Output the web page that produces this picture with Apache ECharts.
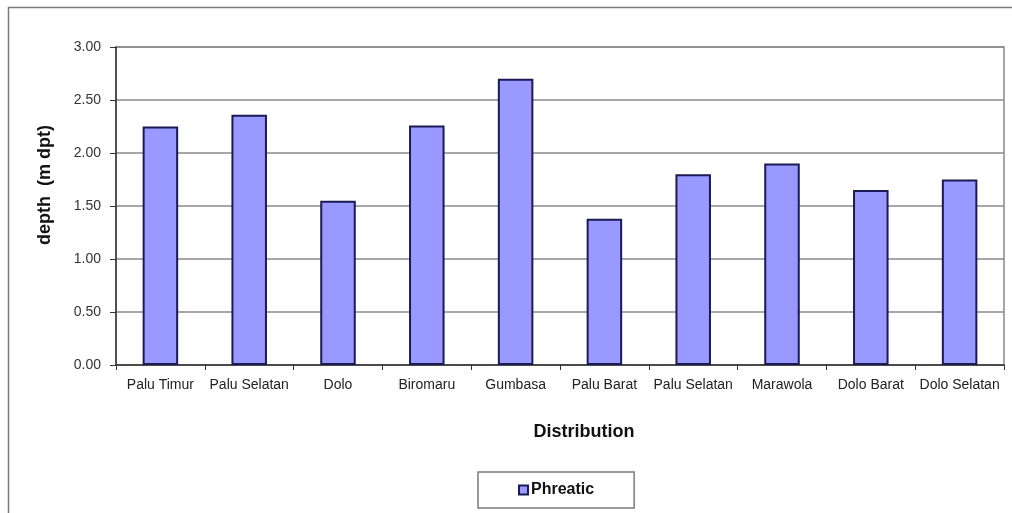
<!DOCTYPE html>
<html>
<head>
<meta charset="utf-8">
<script src="https://cdn.jsdelivr.net/npm/echarts@6/dist/echarts.min.js"></script>
<style>
  html, body { margin: 0; padding: 0; background: #fff; }
  #chart { width: 1012px; height: 513px; }
</style>
</head>
<body>
<div id="chart"></div>
<script>
// Groundwater (phreatic) depth by district
const categories = ['Palu Timur', 'Palu Selatan', 'Dolo', 'Biromaru', 'Gumbasa',
  'Palu Barat', 'Palu Selatan', 'Marawola', 'Dolo Barat', 'Dolo Selatan'];
const phreatic = [2.25, 2.36, 1.55, 2.26, 2.70, 1.38, 1.80, 1.90, 1.65, 1.75];
const yTicks = { min: 0, max: 3, step: 0.5 };

const FONT = '"Liberation Sans", Arial, sans-serif';
const chart = echarts.init(document.getElementById('chart'), null, { renderer: 'canvas' });

chart.setOption({
  backgroundColor: '#ffffff',
  animation: false,
  graphic: [
    // outer chart frame (top and left edges visible)
    { type: 'line', shape: { x1: 8, y1: 7.5, x2: 1012, y2: 7.5 }, style: { stroke: '#7a7a7a', lineWidth: 1.5 } },
    { type: 'line', shape: { x1: 8.5, y1: 7, x2: 8.5, y2: 513 }, style: { stroke: '#7a7a7a', lineWidth: 1.5 } }
  ],
  grid: {
    left: 116, right: 8, top: 47, bottom: 148,
    show: true, borderColor: '#8a8a8a', borderWidth: 1.5, backgroundColor: '#ffffff'
  },
  legend: {
    data: ['Phreatic'],
    left: 478, top: 472,
    padding: [10, 40, 10, 40],
    borderColor: '#7a7a7a', borderWidth: 1.5,
    itemWidth: 9, itemHeight: 9, itemGap: 0,
    icon: 'rect',
    textStyle: { fontFamily: FONT, fontSize: 16, fontWeight: 'bold', color: '#111', padding: [0, 0, 0, -2] }
  },
  xAxis: {
    type: 'category',
    data: categories,
    name: 'Distribution',
    nameLocation: 'middle',
    nameGap: 58,
    nameTextStyle: { fontFamily: FONT, fontSize: 18, fontWeight: 'bold', color: '#111', padding: [0, 0, 0, 48] },
    axisLine: { lineStyle: { color: '#333', width: 1.5 } },
    axisTick: { show: true, alignWithLabel: false, length: 5, lineStyle: { color: '#333' } },
    axisLabel: { fontFamily: FONT, fontSize: 14, color: '#222', margin: 13, interval: 0 }
  },
  yAxis: {
    type: 'value',
    min: yTicks.min, max: yTicks.max, interval: yTicks.step,
    name: 'depth  (m dpt)',
    nameLocation: 'middle',
    nameGap: 62,
    nameTextStyle: { fontFamily: FONT, fontSize: 18, fontWeight: 'bold', color: '#111', padding: [0, 0, 0, 42] },
    axisLine: { show: true, lineStyle: { color: '#333', width: 1.5 } },
    axisTick: { show: true, length: 6, lineStyle: { color: '#333' } },
    axisLabel: {
      fontFamily: FONT, fontSize: 14, color: '#333', margin: 15,
      formatter: v => v.toFixed(2)
    },
    splitLine: { show: true, lineStyle: { color: '#8a8a8a', width: 1.5 } }
  },
  series: [{
    name: 'Phreatic',
    type: 'bar',
    data: phreatic,
    barWidth: '40%',
    itemStyle: { color: '#9999ff', borderColor: '#1a1a55', borderWidth: 2 }
  }]
});
</script>
</body>
</html>
